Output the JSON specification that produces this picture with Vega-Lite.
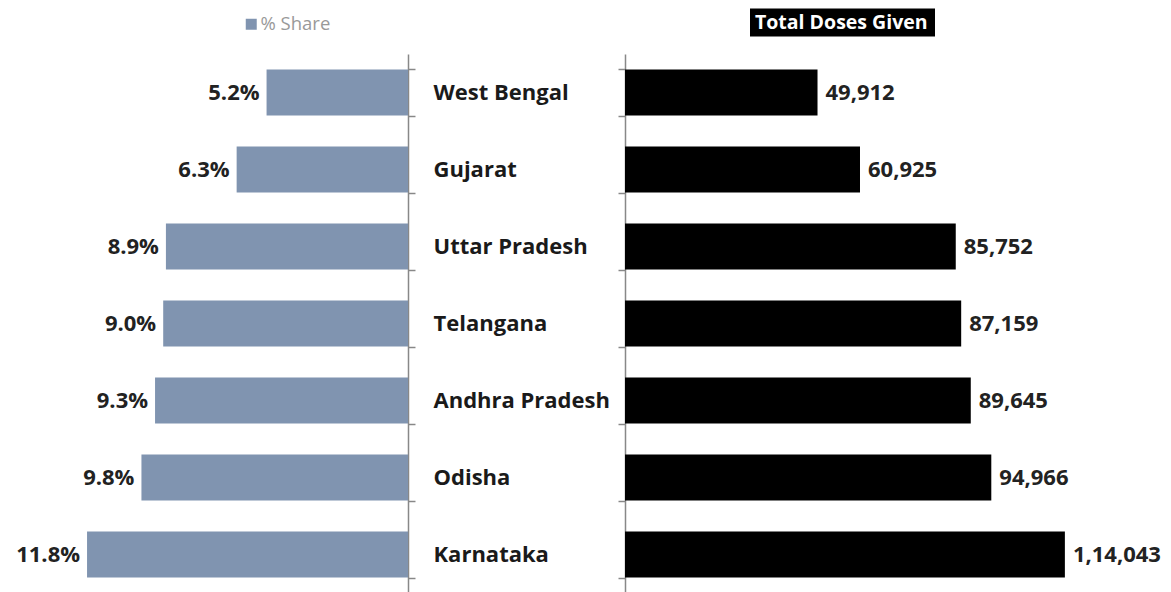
{
  "$schema": "https://vega.github.io/schema/vega-lite/v6.json",
  "padding": {"left": 0, "top": -70, "right": 0, "bottom": 0},
  "background": "white",
  "bounds": "flush",
  "spacing": 217,
  "data": {
    "values": [
      {"state": "West Bengal", "share": 0.052, "doses": 49912, "doses_label": "49,912"},
      {"state": "Gujarat", "share": 0.063, "doses": 60925, "doses_label": "60,925"},
      {"state": "Uttar Pradesh", "share": 0.089, "doses": 85752, "doses_label": "85,752"},
      {"state": "Telangana", "share": 0.090, "doses": 87159, "doses_label": "87,159"},
      {"state": "Andhra Pradesh", "share": 0.093, "doses": 89645, "doses_label": "89,645"},
      {"state": "Odisha", "share": 0.098, "doses": 94966, "doses_label": "94,966"},
      {"state": "Karnataka", "share": 0.118, "doses": 114043, "doses_label": "1,14,043"}
    ]
  },
  "resolve": {"scale": {"color": "independent", "x": "independent"}, "legend": {"color": "independent"}},
  "config": {
    "view": {"stroke": null},
    "font": "Open Sans"
  },
  "hconcat": [
    {
      "width": 408,
      "height": 539,
      "encoding": {
        "y": {
          "field": "state", "type": "nominal",
          "sort": ["West Bengal", "Gujarat", "Uttar Pradesh", "Telangana", "Andhra Pradesh", "Odisha", "Karnataka"],
          "scale": {"paddingInner": 0.4, "paddingOuter": 0.2},
          "axis": {
            "orient": "right", "title": null, "tickBand": "extent",
            "domainColor": "#888", "domainWidth": 1.5, "tickColor": "#888", "tickWidth": 1.5, "tickSize": 7,
            "labelPadding": 18, "labelAlign": "left", "labelBaseline": "middle",
            "labelFont": "Open Sans", "labelFontSize": 22, "labelFontWeight": "bold", "labelColor": "#1a1a1a", "labelLimit": 300
          }
        },
        "x": {"field": "share", "type": "quantitative", "scale": {"domain": [0, 0.15], "reverse": true}, "axis": null}
      },
      "layer": [
        {
          "mark": {"type": "bar"},
          "encoding": {
            "color": {
              "datum": "% Share", "type": "nominal",
              "scale": {"range": ["#8094b0"]},
              "legend": {
                "orient": "none", "legendX": 242, "legendY": -39, "title": null, "padding": 0,
                "symbolType": "square", "symbolSize": 121, "symbolStrokeWidth": 0,
                "labelFont": "Open Sans", "labelFontSize": 18.5, "labelColor": "#999", "labelOffset": 0
              }
            }
          }
        },
        {
          "mark": {"type": "text", "align": "right", "baseline": "middle", "dx": -7, "font": "Open Sans", "fontSize": 22, "fontWeight": "bold", "color": "#222"},
          "encoding": {"text": {"field": "share", "type": "quantitative", "format": ".1%"}}
        }
      ]
    },
    {
      "width": 540,
      "height": 539,
      "encoding": {
        "y": {
          "field": "state", "type": "nominal",
          "sort": ["West Bengal", "Gujarat", "Uttar Pradesh", "Telangana", "Andhra Pradesh", "Odisha", "Karnataka"],
          "scale": {"paddingInner": 0.4, "paddingOuter": 0.2},
          "axis": {
            "orient": "left", "title": null, "tickBand": "extent", "labels": false,
            "domainColor": "#888", "domainWidth": 1.5, "tickColor": "#888", "tickWidth": 1.5, "tickSize": 7
          }
        },
        "x": {"field": "doses", "type": "quantitative", "scale": {"domain": [0, 140000]}, "axis": null}
      },
      "layer": [
        {
          "mark": {"type": "bar"},
          "encoding": {
            "color": {
              "datum": "Total Doses Given", "type": "nominal",
              "scale": {"range": ["#000000"]},
              "legend": {
                "orient": "none", "legendX": 125, "legendY": -124, "title": null, "padding": 0,
                "symbolType": "M-1,-0.151H1V0.151H-1Z", "symbolSize": 34225, "symbolStrokeWidth": 0,
                "labelFont": "Open Sans", "labelFontSize": 19.5, "labelFontWeight": "bold", "labelColor": "#ffffff",
                "labelOffset": -180, "labelLimit": 400
              }
            }
          }
        },
        {
          "mark": {"type": "text", "align": "left", "baseline": "middle", "dx": 8, "font": "Open Sans", "fontSize": 22, "fontWeight": "bold", "color": "#222"},
          "encoding": {"text": {"field": "doses_label", "type": "nominal"}}
        }
      ]
    }
  ]
}
